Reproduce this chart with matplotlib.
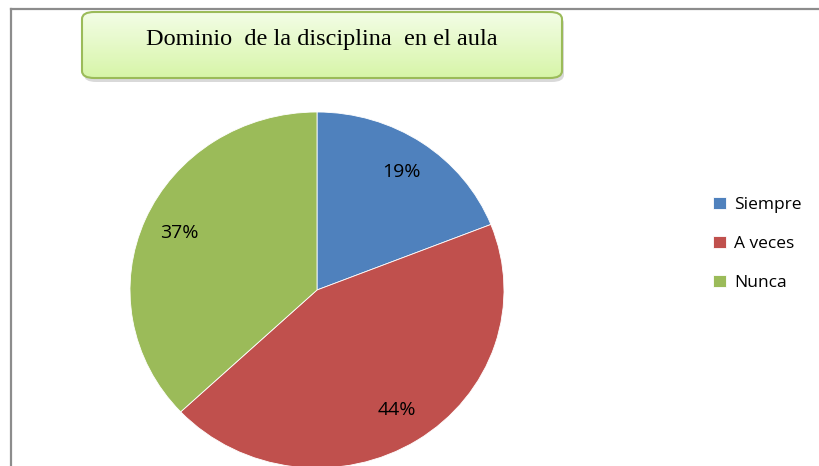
import numpy as np
import matplotlib.pyplot as plt
from matplotlib.patches import FancyBboxPatch
from matplotlib.lines import Line2D
from matplotlib.colors import LinearSegmentedColormap

# Datos
categorias = ['Siempre', 'A veces', 'Nunca']
porcentajes = [19, 44, 37]
colores = ['#4f81bd', '#c0504d', '#9bbb59']
titulo = 'Dominio  de la disciplina  en el aula'

W, H = 819, 466
fig = plt.figure(figsize=(W / 100, H / 100), dpi=100)
fig.patch.set_facecolor('white')

def fx(px):
    return px / W

def fy(py):
    return 1 - py / H

# Marco del gráfico (solo arriba e izquierda visibles)
fig.add_artist(Line2D([fx(11), fx(11)], [fy(9), fy(470)], color='#8c8c8c', lw=1.6))
fig.add_artist(Line2D([fx(11), fx(819)], [fy(9), fy(9)], color='#8c8c8c', lw=1.6))

# Caja del título con degradado
bx0, by0, bx1, by1 = 82, 12, 562, 78
sombra = FancyBboxPatch((fx(bx0 + 2), fy(by1 + 4)), fx(bx1 - bx0), (by1 - by0) / H,
                        boxstyle='round,pad=0,rounding_size=0.015',
                        transform=fig.transFigure, facecolor='#a0a0a0', edgecolor='none',
                        alpha=0.4, zorder=1)
fig.add_artist(sombra)
caja = FancyBboxPatch((fx(bx0), fy(by1)), fx(bx1 - bx0), (by1 - by0) / H,
                      boxstyle='round,pad=0,rounding_size=0.015',
                      transform=fig.transFigure, facecolor='none', edgecolor='#9bbb59',
                      lw=1.5, zorder=3)
ax_g = fig.add_axes([fx(bx0), fy(by1), fx(bx1 - bx0), (by1 - by0) / H], zorder=2)
grad = np.linspace(0, 1, 100).reshape(-1, 1)
cmap = LinearSegmentedColormap.from_list('g', ['#f3fde6', '#d7f5a8'])
img = ax_g.imshow(grad, aspect='auto', cmap=cmap, extent=[0, 1, 0, 1], origin='upper')
ax_g.axis('off')
img.set_clip_path(caja)
fig.add_artist(caja)
fig.text(fx(322), fy(40), titulo, ha='center', va='center',
         fontsize=17.5, family='Liberation Serif', color='black', zorder=5)

# Gráfico circular
ax = fig.add_axes([fx(130), fy(468), fx(374), 356 / H])
wedges, textos, autotextos = ax.pie(porcentajes, colors=colores, startangle=90,
                                    counterclock=False, autopct='%1.0f%%',
                                    pctdistance=0.8, radius=1,
                                    wedgeprops=dict(linewidth=0.6, edgecolor='white'),
                                    textprops=dict(fontsize=14, family='Open Sans', color='black'))
ax.set_aspect('auto')
ax.set_xlim(-1, 1)
ax.set_ylim(-1, 1)

# Leyenda
fig.legend(wedges, categorias, loc='upper left', bbox_to_anchor=(fx(697), fy(181)),
           frameon=False, prop=dict(family='Open Sans', size=12.5), handlelength=0.75,
           handleheight=0.75, labelspacing=1.3, handletextpad=0.5)

fig.savefig('out.png', dpi=100)
